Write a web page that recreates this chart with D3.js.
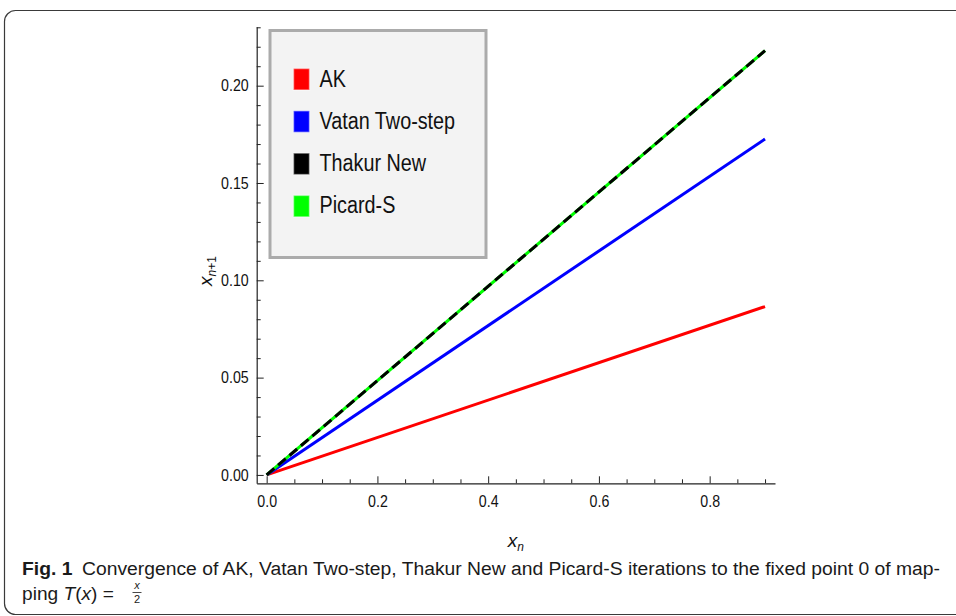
<!DOCTYPE html>
<meta charset="UTF-8">
<html>
<head>
	<title>Fig. 1 convergence</title>
	<script src="https://d3js.org/d3.v7.min.js"></script>
	<style>
		body { margin: 0; background: #fff; }
		text { font-family: "Liberation Sans", Arial, sans-serif; }
	</style>
</head>
<body>
	<svg id="chart" width="956" height="616"></svg>

	<script>
		// values: x_n and x_{n+1}
		var xn = [0, 0.9];
		var akVals = [0, 0.0865];
		var vatanVals = [0, 0.1726];
		var thakurVals = [0, 0.218];
		var picardVals = [0, 0.218];

		var seriesNames = ["AK", "Vatan Two-step", "Thakur New", "Picard-S"];
		var seriesColors = ["#ff0000", "#0000ff", "#000000", "#00ff00"];

		var xMajor = [0, 0.2, 0.4, 0.6, 0.8];
		var xMinor = [0.05, 0.1, 0.15, 0.25, 0.3, 0.35, 0.45, 0.5, 0.55, 0.65, 0.7, 0.75, 0.85, 0.9];
		var yMajor = [0, 0.05, 0.1, 0.15, 0.2];
		var yMinor = [0.01, 0.02, 0.03, 0.04, 0.06, 0.07, 0.08, 0.09, 0.11, 0.12, 0.13, 0.14,
			0.16, 0.17, 0.18, 0.19, 0.21, 0.22, 0.23];

		var svg = d3.select("#chart");

		// squeeze text horizontally to mimic the narrow font of the original
		function squeeze(sel, f){
			sel.each(function(){
				var w = this.getComputedTextLength();
				d3.select(this)
					.attr("textLength", w * f)
					.attr("lengthAdjust", "spacingAndGlyphs");
			});
		}

		// outer frame of the figure
		svg.append("rect")
			.attr("x", 4.5)
			.attr("y", 10.5)
			.attr("width", 990)
			.attr("height", 604)
			.attr("rx", 11)
			.style("fill", "none")
			.style("stroke", "#3a3a3a")
			.style("stroke-width", 1.2);

		var x = d3.scaleLinear()
			.domain([-0.018, 0.918])
			.range([256.7, 775]);
		var y = d3.scaleLinear()
			.domain([-0.0043, 0.2303])
			.range([483.3, 26.7]);

		var tickFmt2 = d3.format(".2f");
		var tickFmt1 = d3.format(".1f");

		// minor ticks first
		svg.append("g")
			.attr("transform", "translate(0," + y.range()[0] + ")")
			.call(d3.axisBottom(x).tickValues(xMinor).tickSize(-4).tickSizeOuter(0).tickFormat(""))
			.call(function(g){ g.select(".domain").remove(); });
		svg.append("g")
			.attr("transform", "translate(" + x.range()[0] + ",0)")
			.call(d3.axisLeft(y).tickValues(yMinor).tickSize(-4).tickSizeOuter(0).tickFormat(""))
			.call(function(g){ g.select(".domain").remove(); });

		var xAxis = svg.append("g")
			.attr("transform", "translate(0," + y.range()[0] + ")")
			.call(d3.axisBottom(x).tickValues(xMajor).tickSize(-7).tickSizeOuter(0)
				.tickPadding(12).tickFormat(tickFmt1));
		var yAxis = svg.append("g")
			.attr("transform", "translate(" + x.range()[0] + ",0)")
			.call(d3.axisLeft(y).tickValues(yMajor).tickSize(-7).tickSizeOuter(0)
				.tickPadding(8).tickFormat(tickFmt2));

		svg.selectAll(".tick line").style("stroke", "#222").style("stroke-width", 1);
		svg.selectAll(".domain").style("stroke", "#222").style("stroke-width", 1.2);
		svg.selectAll(".tick text")
			.style("font-size", "16.5px")
			.style("fill", "#111");
		squeeze(xAxis.selectAll(".tick text"), 0.86);
		squeeze(yAxis.selectAll(".tick text"), 0.86);

		// axis labels
		var xl = svg.append("text")
			.attr("x", (x.range()[0] + x.range()[1]) / 2)
			.attr("y", 547)
			.attr("text-anchor", "middle")
			.style("font-size", "19px")
			.style("fill", "#111");
		xl.append("tspan").style("font-style", "italic").text("x");
		xl.append("tspan").attr("dy", 4).style("font-size", "12px").style("font-style", "italic").text("n");

		var yl = svg.append("text")
			.attr("transform", "translate(212,271) rotate(-90)")
			.attr("text-anchor", "middle")
			.style("font-size", "19px")
			.style("fill", "#111");
		yl.append("tspan").style("font-style", "italic").text("x");
		yl.append("tspan").attr("dy", 4).style("font-size", "12px").style("font-style", "italic").text("n");
		yl.append("tspan").style("font-size", "12px").text("+1");

		// lines
		var line = d3.line()
			.x(function(d){ return x(d[0]); })
			.y(function(d){ return y(d[1]); });

		function pairs(vals){ return xn.map(function(v, i){ return [v, vals[i]]; }); }

		svg.append("path").datum(pairs(akVals))
			.attr("d", line)
			.style("fill", "none").style("stroke", seriesColors[0]).style("stroke-width", 3);
		svg.append("path").datum(pairs(vatanVals))
			.attr("d", line)
			.style("fill", "none").style("stroke", seriesColors[1]).style("stroke-width", 3);
		svg.append("path").datum(pairs(picardVals))
			.attr("d", line)
			.style("fill", "none").style("stroke", seriesColors[3]).style("stroke-width", 3);
		svg.append("path").datum(pairs(thakurVals))
			.attr("d", line)
			.style("fill", "none").style("stroke", seriesColors[2]).style("stroke-width", 3)
			.style("stroke-dasharray", "10,5");

		// legend
		svg.append("rect")
			.attr("x", 270)
			.attr("y", 30.5)
			.attr("width", 216)
			.attr("height", 227)
			.style("fill", "#f3f3f3")
			.style("stroke", "#ababab")
			.style("stroke-width", 3);

		var leg = svg.selectAll(".leg")
			.data(seriesNames)
			.enter()
			.append("g")
				.attr("class", "leg")
				.attr("transform", function(d, i){ return "translate(293.5," + (68.5 + i * 42.3) + ")"; });
		leg.append("rect")
			.attr("width", 16)
			.attr("height", 21.5)
			.style("fill", function(d, i){ return seriesColors[i]; })
			.style("stroke", "#ffffff")
			.style("stroke-opacity", 0.45)
			.style("stroke-width", 1.5);
		var legText = leg.append("text")
			.attr("x", 26)
			.attr("y", 18)
			.style("font-size", "23px")
			.style("fill", "#111")
			.text(function(d){ return d; });
		squeeze(legText, 0.86);

		// caption
		var cap1 = svg.append("text")
			.attr("x", 22)
			.attr("y", 575)
			.style("font-size", "18px")
			.style("fill", "#1a1a1a");
		cap1.append("tspan").style("font-weight", "bold").text("Fig. 1");
		cap1.append("tspan").attr("dx", 9)
			.text("Convergence of AK, Vatan Two-step, Thakur New and Picard-S iterations to the fixed point 0 of map-");
		cap1.attr("textLength", 918).attr("lengthAdjust", "spacingAndGlyphs");

		var cap2 = svg.append("text")
			.attr("x", 22)
			.attr("y", 600)
			.style("font-size", "18px")
			.style("fill", "#1a1a1a");
		cap2.append("tspan").text("ping ");
		cap2.append("tspan").style("font-style", "italic").text("T");
		cap2.append("tspan").text("(");
		cap2.append("tspan").style("font-style", "italic").text("x");
		cap2.append("tspan").text(")  =");
		cap2.attr("textLength", 92).attr("lengthAdjust", "spacingAndGlyphs");

		svg.append("text")
			.attr("x", 137).attr("y", 589)
			.attr("text-anchor", "middle")
			.style("font-size", "11px").style("font-style", "italic").style("fill", "#1a1a1a")
			.text("x");
		svg.append("line")
			.attr("x1", 132.5).attr("x2", 141.5)
			.attr("y1", 592.5).attr("y2", 592.5)
			.style("stroke", "#1a1a1a").style("stroke-width", 0.8);
		svg.append("text")
			.attr("x", 137).attr("y", 603)
			.attr("text-anchor", "middle")
			.style("font-size", "11px").style("fill", "#1a1a1a")
			.text("2");
	</script>
</body>
</html>
